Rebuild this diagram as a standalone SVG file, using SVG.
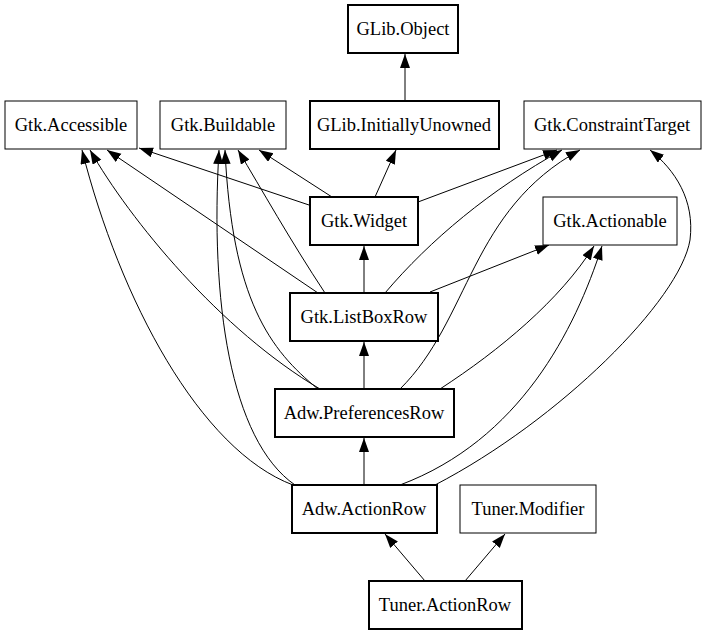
<svg xmlns="http://www.w3.org/2000/svg" width="707" height="635" viewBox="0 0 707 635">
<style>
rect{fill:#fff;stroke:#000;stroke-width:1}
.b rect{stroke-width:2}
text{font-family:"Liberation Serif",serif;font-size:18.5px;text-anchor:middle}
#edges path{fill:none;stroke:#000;stroke-width:1;marker-end:url(#a)}
</style>
<defs><marker id="a" markerUnits="userSpaceOnUse" markerWidth="15" markerHeight="11" refX="14" refY="5" orient="auto"><path d="M0,0L14,5L0,10z" fill="#000"/></marker></defs>
<rect x="0" y="0" width="707" height="635" style="stroke:none"/>
<g id="edges">
<path d="M405,101L405,54"/>
<path d="M312,206L139,148"/>
<path d="M332,197L259,150"/>
<path d="M375,197L396,150"/>
<path d="M418,202L557,150"/>
<path d="M318,293L107,150"/>
<path d="M325,293C290,240 262,190 238,150"/>
<path d="M364,293L364,246"/>
<path d="M385,293C430,240 490,190 562,150"/>
<path d="M430,292L549,245"/>
<path d="M320,389C220,330 130,220 90,150"/>
<path d="M318,389C270,350 232,300 225,150"/>
<path d="M364,389L364,342"/>
<path d="M400,389C470,320 470,210 580,150"/>
<path d="M440,389C500,350 560,300 594,246"/>
<path d="M293,485C200,450 120,300 82,150"/>
<path d="M295,485C230,440 210,300 219,150"/>
<path d="M364,485L364,438"/>
<path d="M400,485C520,440 575,330 602,246"/>
<path d="M435,485C560,420 680,300 690,240C695,200 675,170 650,150"/>
<path d="M425,581L385,534"/>
<path d="M465,581L505,534"/>
</g>
<g id="GLib.Object" class="b"><rect x="348" y="5" width="110" height="48"/><text x="403" y="35">GLib.Object</text></g>
<g id="Gtk.Accessible"><rect x="5" y="101" width="132" height="48"/><text x="71" y="131">Gtk.Accessible</text></g>
<g id="Gtk.Buildable"><rect x="160" y="101" width="126" height="48"/><text x="223" y="131">Gtk.Buildable</text></g>
<g id="GLib.InitiallyUnowned" class="b"><rect x="310" y="101" width="189" height="48"/><text x="404" y="131">GLib.InitiallyUnowned</text></g>
<g id="Gtk.ConstraintTarget"><rect x="524" y="101" width="177" height="48"/><text x="612" y="131">Gtk.ConstraintTarget</text></g>
<g id="Gtk.Widget" class="b"><rect x="310" y="197" width="108" height="48"/><text x="364" y="227">Gtk.Widget</text></g>
<g id="Gtk.Actionable"><rect x="543" y="197" width="134" height="48"/><text x="610" y="227">Gtk.Actionable</text></g>
<g id="Gtk.ListBoxRow" class="b"><rect x="290" y="293" width="148" height="48"/><text x="364" y="323">Gtk.ListBoxRow</text></g>
<g id="Adw.PreferencesRow" class="b"><rect x="275" y="389" width="179" height="48"/><text x="364" y="419">Adw.PreferencesRow</text></g>
<g id="Adw.ActionRow" class="b"><rect x="292" y="485" width="145" height="48"/><text x="364" y="515">Adw.ActionRow</text></g>
<g id="Tuner.Modifier"><rect x="460" y="485" width="136" height="48"/><text x="528" y="515">Tuner.Modifier</text></g>
<g id="Tuner.ActionRow" class="b"><rect x="369" y="581" width="153" height="48"/><text x="445" y="611">Tuner.ActionRow</text></g>
</svg>
